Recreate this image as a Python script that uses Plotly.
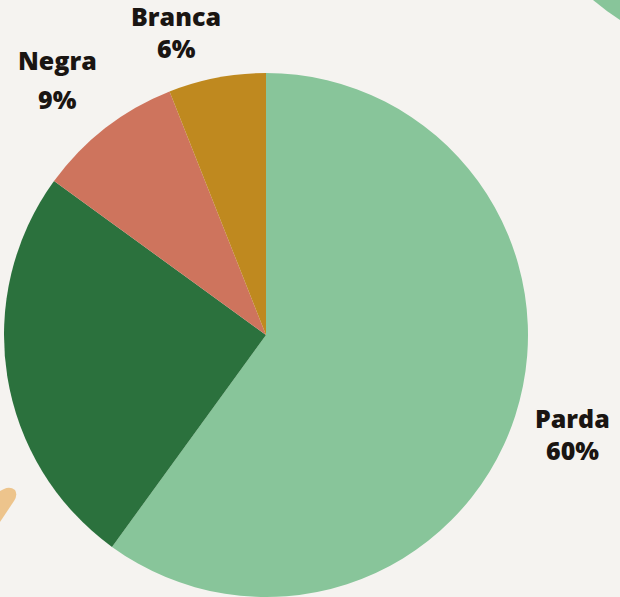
import plotly.graph_objects as go

categories = ["Parda", "Outras", "Negra", "Branca"]
values = [60, 25, 9, 6]
colors = ["#88C59A", "#2B713D", "#CE745D", "#BF891F"]
shown_labels = ["Parda", "", "Negra", "Branca"]

W, H = 620, 597
cx, cy, r = 266, 335, 262

fig = go.Figure(go.Pie(
    labels=categories,
    values=values,
    sort=False,
    direction="clockwise",
    rotation=0,
    marker=dict(colors=colors, line=dict(width=0)),
    textinfo="none",
    hoverinfo="label+percent",
    showlegend=False,
    domain=dict(x=[(cx - r) / W, (cx + r) / W], y=[(H - cy - r) / H, (H - cy + r) / H]),
))

def px(x):
    return x / W

def py(y):
    return 1 - y / H

# label positions (pixel centers of name and percent lines)
label_pos = {"Parda": (572, 418, 450), "Negra": (57, 60, 99), "Branca": (176, 16, 48)}
font = dict(family="'Open Sans', sans-serif", size=25, color="#1A1512", weight=800)
anns = []
total = sum(values)
for cat, val, lab in zip(categories, values, shown_labels):
    if not lab:
        continue
    x, y1, y2 = label_pos[lab]
    anns.append(dict(x=px(x), y=py(y1), xref="paper", yref="paper", text=lab,
                     showarrow=False, font=font, xanchor="center", yanchor="middle"))
    anns.append(dict(x=px(x), y=py(y2), xref="paper", yref="paper",
                     text=f"{round(val / total * 100)}%",
                     showarrow=False, font=font, xanchor="center", yanchor="middle"))

shapes = [
    # green decoration top-right
    dict(type="path", xref="paper", yref="paper",
         path=f"M {px(593)} {py(0)} Q {px(606)} {py(11)} {px(620)} {py(20)} L {px(620)} {py(0)} Z",
         fillcolor="#88C59A", line=dict(width=0), layer="below"),
    # tan decoration bottom-left
    dict(type="path", xref="paper", yref="paper",
         path=(f"M {px(0)} {py(491)} L {px(4)} {py(489)} Q {px(10)} {py(486)} {px(15)} {py(490)} "
               f"Q {px(18)} {py(495)} {px(14)} {py(501)} L {px(0)} {py(522)} Z"),
         fillcolor="#EDC48C", line=dict(width=0), layer="below"),
]

fig.update_layout(
    width=W, height=H,
    margin=dict(l=0, r=0, t=0, b=0),
    paper_bgcolor="#F5F3F0",
    plot_bgcolor="#F5F3F0",
    annotations=anns,
    shapes=shapes,
)

fig.write_html(
    "out.html",
    config={"displayModeBar": False},
    post_script="document.body.style.margin='0';document.body.style.background='#F5F3F0';",
)
